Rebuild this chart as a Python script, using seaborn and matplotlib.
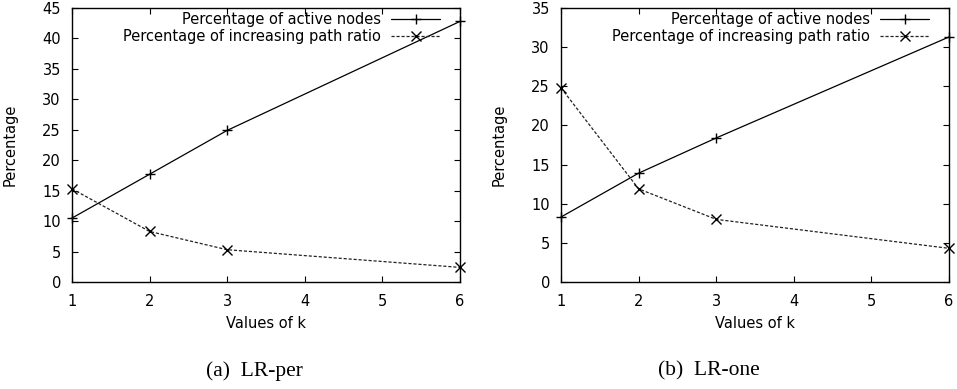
import matplotlib
matplotlib.use("Agg")
import matplotlib.pyplot as plt
import seaborn as sns

# values
k_values = [1, 2, 3, 6]
per_active = [10.5, 17.7, 24.9, 42.8]
per_path = [15.3, 8.3, 5.3, 2.4]
one_active = [8.3, 13.9, 18.4, 31.3]
one_path = [24.8, 11.9, 8.0, 4.3]

label_active = "Percentage of active nodes"
label_path = "Percentage of increasing path ratio"
captions = ["(a)  LR-per", "(b)  LR-one"]
y_limits = [45, 35]

sns.set_style("ticks")
plt.rcParams["font.family"] = ["DejaVu Sans"]
plt.rcParams["font.size"] = 10.5
for key in ["text.color", "axes.labelcolor", "xtick.color", "ytick.color"]:
    plt.rcParams[key] = "black"

fig = plt.figure(figsize=(9.57, 3.89), dpi=100)
ax_left = fig.add_axes([72 / 957, 1 - 282 / 389, 388 / 957, 274 / 389])
ax_right = fig.add_axes([561 / 957, 1 - 282 / 389, 388 / 957, 274 / 389])

panels = [
    (ax_left, per_active, per_path, y_limits[0]),
    (ax_right, one_active, one_path, y_limits[1]),
]

for ax, active, path, ymax in panels:
    sns.lineplot(x=k_values, y=active, ax=ax, color="black", linewidth=0.9,
                 marker="+", markersize=7.5, markeredgecolor="black",
                 markeredgewidth=1.0, label=label_active, clip_on=False)
    sns.lineplot(x=k_values, y=path, ax=ax, color="#222222", linewidth=0.9,
                 linestyle=(0, (2.5, 1.5)), marker="x", markersize=6.5,
                 markeredgecolor="black", markeredgewidth=1.0,
                 label=label_path, clip_on=False)

    ax.set_xlim(1, 6)
    ax.set_ylim(0, ymax)
    ax.set_xticks(range(1, 7))
    ax.set_yticks(range(0, ymax + 1, 5))
    ax.tick_params(direction="in", top=True, right=True, length=4,
                   width=0.8, labelsize=10.5, colors="black")
    ax.tick_params(axis="x", pad=9)
    ax.tick_params(axis="y", pad=8)
    for sp in ax.spines.values():
        sp.set_visible(True)
        sp.set_linewidth(1.0)
        sp.set_color("black")

    ax.set_xlabel("Values of k", fontsize=10.5)
    ax.set_ylabel("Percentage", fontsize=10.5)
    ax.xaxis.set_label_coords(0.5, -0.125)
    ax.yaxis.set_label_coords(-0.14, 0.5)

    leg = ax.legend(loc="upper right", bbox_to_anchor=(0.955, 0.995),
                    frameon=False, markerfirst=False, handlelength=3.3,
                    handletextpad=0.7, labelspacing=0.12, borderpad=0.2,
                    borderaxespad=0, fontsize=10.5)
    # right-align the legend texts like gnuplot does
    for col in leg._legend_handle_box.get_children():
        col.align = "right"

fig.text(254 / 957, 1 - 371 / 389, captions[0], family="Liberation Serif",
         fontsize=15.5, ha="center", va="center")
fig.text(709 / 957, 1 - 371 / 389, captions[1], family="Liberation Serif",
         fontsize=15.5, ha="center", va="center")

fig.savefig("out.png", dpi=100)
